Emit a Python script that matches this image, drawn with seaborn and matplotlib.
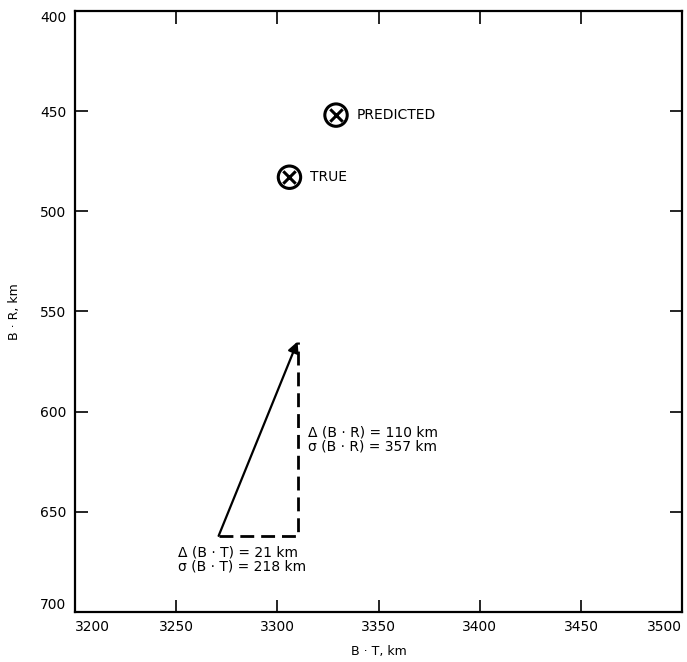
import matplotlib
matplotlib.use('Agg')
import matplotlib.pyplot as plt
import seaborn as sns
import pandas as pd

# values
point_labels = ['PREDICTED', 'TRUE']
point_bt = [3329, 3306]
point_br = [452, 483]

# miss vector: start -> tip
vec_bt = [3271, 3310]
vec_br = [662, 565]

x_ticks = [3200, 3250, 3300, 3350, 3400, 3450, 3500]
y_ticks = [400, 450, 500, 550, 600, 650, 700]

sns.set_theme(style='ticks')
plt.rcParams['font.family'] = ['DejaVu Sans']

fig = plt.figure(figsize=(6.87, 6.62), dpi=100)
ax = fig.add_axes([0.109, 0.0755, 0.884, 0.908])

pts = pd.DataFrame({'bt': point_bt, 'br': point_br, 'label': point_labels})
sns.scatterplot(data=pts, x='bt', y='br', ax=ax, marker='o', s=260,
                facecolor='none', edgecolor='black', linewidth=2.2, zorder=3)
sns.scatterplot(data=pts, x='bt', y='br', ax=ax, marker='x', s=80,
                color='black', linewidth=2.2, zorder=3)
for _, r in pts.iterrows():
    ax.text(r['bt'] + 10, r['br'], r['label'], fontsize=10,
            va='center', ha='left', color='black')

# dashed components
ax.plot([vec_bt[0], vec_bt[1], vec_bt[1]], [vec_br[0], vec_br[0], vec_br[1]],
        color='black', lw=2, ls=(0, (5, 2.5)))
# miss vector arrow
ax.annotate('', xy=(vec_bt[1], vec_br[1]), xytext=(vec_bt[0], vec_br[0]),
            arrowprops=dict(arrowstyle='-|>', color='black', lw=1.6,
                            mutation_scale=16, shrinkA=0, shrinkB=0))

ax.text(3315, 614, 'Δ (B · R) = 110 km\nσ (B · R) = 357 km', fontsize=10,
        va='center', ha='left', linespacing=1.0, color='black')
ax.text(3251, 674, 'Δ (B · T) = 21 km\nσ (B · T) = 218 km', fontsize=10,
        va='center', ha='left', linespacing=1.0, color='black')

ax.set_xlim(3200, 3500)
ax.set_ylim(700, 400)
ax.set_xticks(x_ticks)
ax.set_yticks(y_ticks)
ax.tick_params(direction='in', length=9, width=1.2, top=True, right=True,
               labelsize=10, colors='black', pad=6)
xl = ax.get_xticklabels()
xl[0].set_horizontalalignment('left')
xl[-1].set_horizontalalignment('right')
yl = ax.get_yticklabels()
yl[0].set_verticalalignment('top')
yl[-1].set_verticalalignment('bottom')
for s in ax.spines.values():
    s.set_linewidth(1.6)
    s.set_color('black')
ax.set_xlabel('B · T, km', fontsize=9, color='black', labelpad=8)
ax.set_ylabel('B · R, km', fontsize=9, color='black', labelpad=14)

fig.savefig('out.png', dpi=100)
